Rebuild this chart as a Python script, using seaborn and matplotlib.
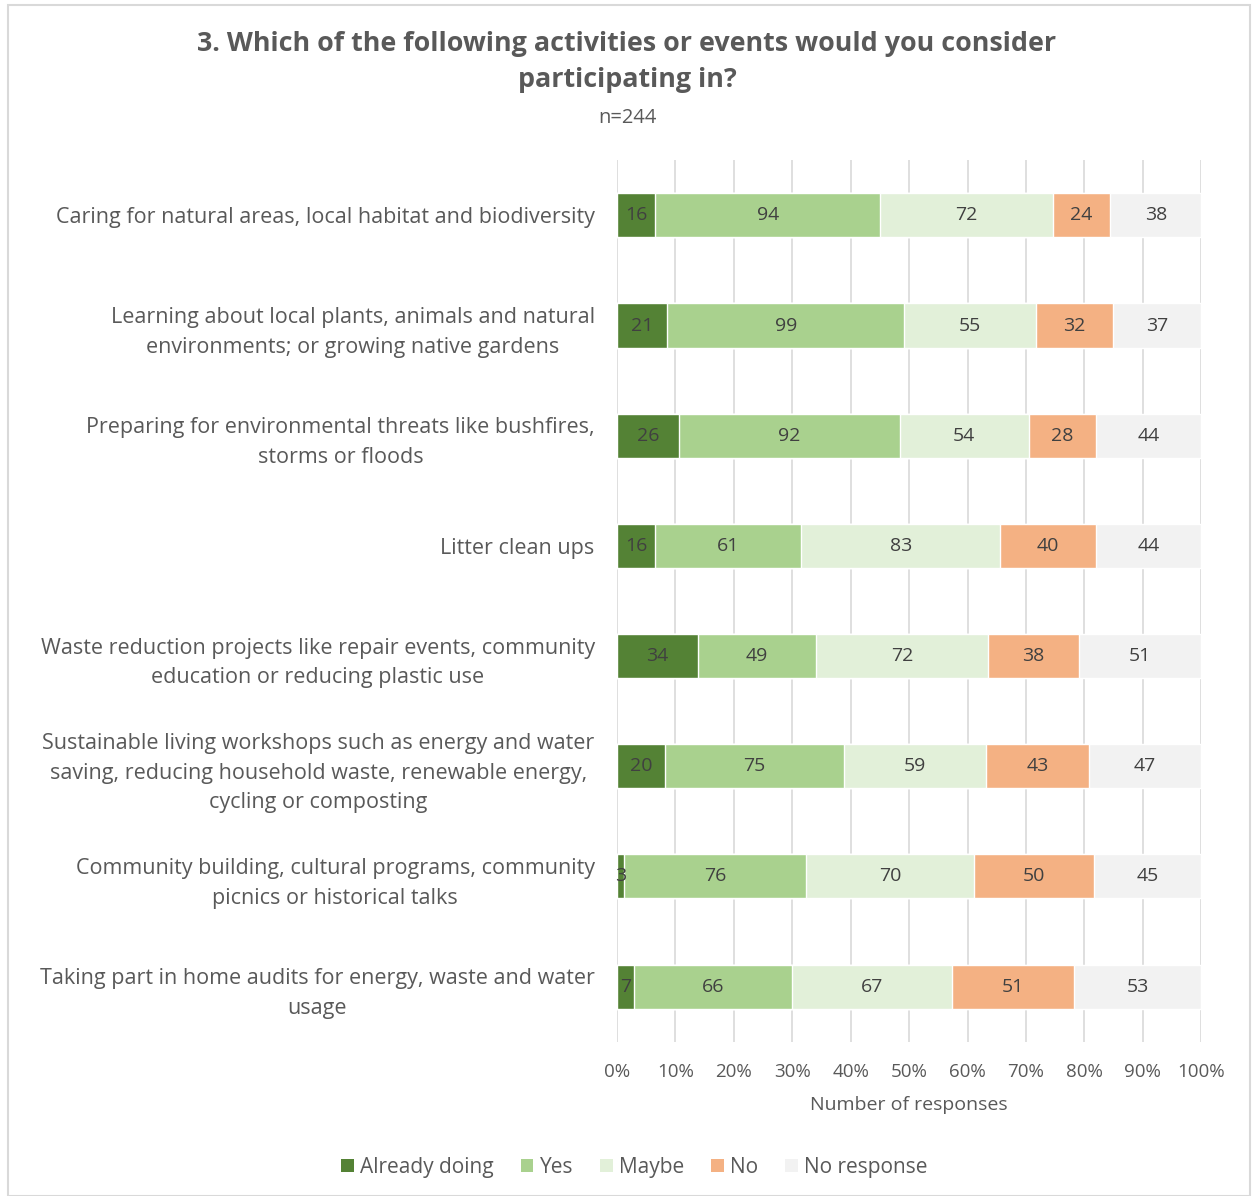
import numpy as np
import pandas as pd
import matplotlib
matplotlib.use("Agg")
import matplotlib.pyplot as plt
import seaborn as sns
from matplotlib.patches import Patch, Rectangle

# Data (counts, n=244)
activities = [
    "Caring for natural areas, local habitat and biodiversity",
    "Learning about local plants, animals and natural\nenvironments; or growing native gardens",
    "Preparing for environmental threats like bushfires,\nstorms or floods",
    "Litter clean ups",
    "Waste reduction projects like repair events, community\neducation or reducing plastic use",
    "Sustainable living workshops such as energy and water\nsaving, reducing household waste, renewable energy,\ncycling or composting",
    "Community building, cultural programs, community\npicnics or historical talks",
    "Taking part in home audits for energy, waste and water\nusage",
]
already_doing = [16, 21, 26, 16, 34, 20, 3, 7]
yes = [94, 99, 92, 61, 49, 75, 76, 66]
maybe = [72, 55, 54, 83, 72, 59, 70, 67]
no = [24, 32, 28, 40, 38, 43, 50, 51]
no_response = [38, 37, 44, 44, 51, 47, 45, 53]

series_names = ["Already doing", "Yes", "Maybe", "No", "No response"]
colors = ["#548235", "#A9D18E", "#E2F0D9", "#F4B183", "#F2F2F2"]

counts = pd.DataFrame({
    "Already doing": already_doing,
    "Yes": yes,
    "Maybe": maybe,
    "No": no,
    "No response": no_response,
}, index=activities)

pct = counts.div(counts.sum(axis=1), axis=0) * 100
cum = pct.cumsum(axis=1)

sns.set_style("white")
plt.rcParams["font.family"] = ["Open Sans", "DejaVu Sans"]
text_col = "#595959"

fig = plt.figure(figsize=(12.54, 11.96), dpi=100)
ax = fig.add_axes([0.492, 0.129, 0.466, 0.737])

# draw stacked bars back-to-front using cumulative percentages
for name, col in reversed(list(zip(series_names, colors))):
    df = pd.DataFrame({"activity": activities, "value": cum[name].values})
    sns.barplot(data=df, x="value", y="activity", orient="h", color=col,
                width=0.4, saturation=1, ax=ax, zorder=3)

# value labels in the middle of each segment
for i, act in enumerate(activities):
    for name in series_names:
        left = cum.loc[act, name] - pct.loc[act, name]
        mid = left + pct.loc[act, name] / 2
        ax.text(mid, i, str(counts.loc[act, name]), ha="center", va="center",
                fontsize=14, color="#404040", zorder=4)

ax.set_xlim(0, 100)
ax.set_ylim(7.5, -0.5)
ax.set_xticks(np.arange(0, 101, 10))
ax.set_xticklabels([f"{t}%" for t in range(0, 101, 10)], color=text_col, fontsize=13.5)
ax.tick_params(axis="x", length=0, pad=15)
ax.tick_params(axis="y", length=0, pad=16)
ax.set_yticks(range(len(activities)))
ax.set_yticklabels(activities, fontsize=15.5, color=text_col, linespacing=1.55)
for lbl in ax.get_yticklabels():
    lbl.set_multialignment("center")
ax.set_ylabel("")
ax.set_xlabel("Number of responses", fontsize=14, color=text_col, labelpad=11)
ax.xaxis.grid(True, color="#D9D9D9", linewidth=1.2, zorder=0)
ax.set_axisbelow(True)
for s in ax.spines.values():
    s.set_visible(False)

fig.text(0.5, 0.948, "3. Which of the following activities or events would you consider\nparticipating in?",
         ha="center", va="center", fontsize=19.4, fontweight="bold", color=text_col,
         linespacing=1.5)
fig.text(0.5, 0.901, "n=244", ha="center", va="center", fontsize=14.5, color=text_col)

handles = [Patch(facecolor=c, edgecolor="none") for c in colors]
leg = fig.legend(handles, series_names, loc="center", bbox_to_anchor=(0.506, 0.024),
                 ncol=5, frameon=False, fontsize=15, handlelength=0.6, handleheight=0.6,
                 columnspacing=1.3, handletextpad=0.3)
for t in leg.get_texts():
    t.set_color(text_col)

# outer frame like the chart area border
fig.patches.append(Rectangle((0.006, 0.0), 0.991, 0.996, transform=fig.transFigure,
                             fill=False, edgecolor="#D9D9D9", linewidth=1.5))

fig.savefig("out.png", dpi=100)
